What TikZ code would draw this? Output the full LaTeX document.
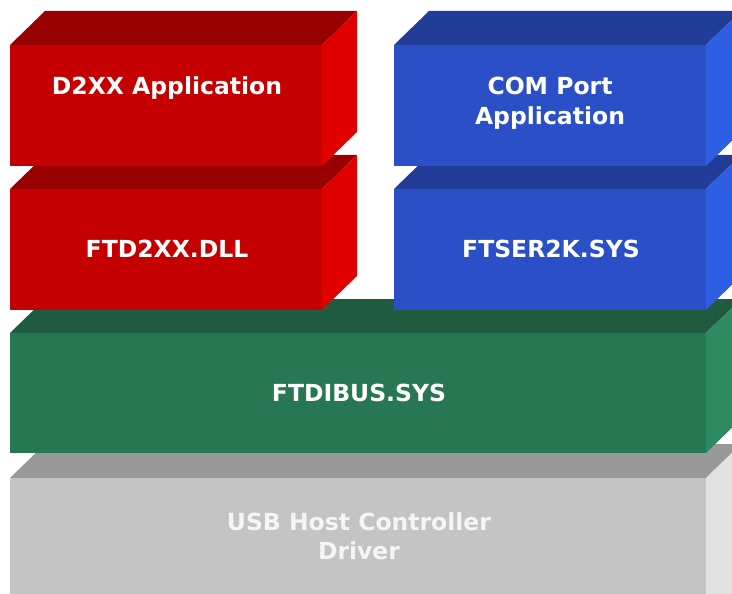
\documentclass[tikz,border=0pt]{standalone}
\usepackage{fontspec}
\setmainfont{DejaVu Sans}
\definecolor{rF}{HTML}{C40000}\definecolor{rT}{HTML}{990000}\definecolor{rS}{HTML}{E00000}
\definecolor{bF}{HTML}{2A4FC6}\definecolor{bT}{HTML}{213D97}\definecolor{bS}{HTML}{2E5EE4}
\definecolor{gF}{HTML}{277852}\definecolor{gT}{HTML}{1F5B3E}\definecolor{gS}{HTML}{2E8B5F}
\definecolor{yF}{HTML}{C4C4C4}\definecolor{yT}{HTML}{999999}\definecolor{yS}{HTML}{E1E1E1}
\newcommand\slab[7]{%
  \fill[#6] (#1,#2) -- ++(35,-34) -- (#3+35,#2-34) -- (#3,#2) -- cycle;
  \fill[#7] (#3,#2) -- ++(35,-34) -- (#3+35,#4-34) -- (#3,#4) -- cycle;
  \fill[#5] (#1,#2) rectangle (#3,#4);
}
\tikzset{lbl/.style={text=white,font=\bfseries\fontsize{23.5}{29.5}\selectfont,align=center,inner sep=0pt}}
\begin{document}
\begin{tikzpicture}[x=1pt,y=-1pt]
\useasboundingbox (0,0) rectangle (732,594);
\clip (0,0) rectangle (732,594);
\slab{10}{478}{706}{640}{yF}{yT}{yS}
\slab{10}{333}{706}{453}{gF}{gT}{gS}
\slab{10}{189}{322}{310}{rF}{rT}{rS}
\slab{394}{189}{706}{310}{bF}{bT}{bS}
\slab{10}{45}{322}{166}{rF}{rT}{rS}
\slab{394}{45}{706}{166}{bF}{bT}{bS}
\node[lbl] (d2xx) at (167,88) {D2XX Application};
\node[lbl] (com) at (550,103) {COM Port\\Application};
\node[lbl] (dll) at (167,249) {FTD2XX.DLL};
\node[lbl] (ser) at (551,249) {FTSER2K.SYS};
\node[lbl] (bus) at (359,393) {FTDIBUS.SYS};
\node[lbl,text=white!96!black] (usb) at (359,536) {USB Host Controller\\Driver};
\end{tikzpicture}
\end{document}
